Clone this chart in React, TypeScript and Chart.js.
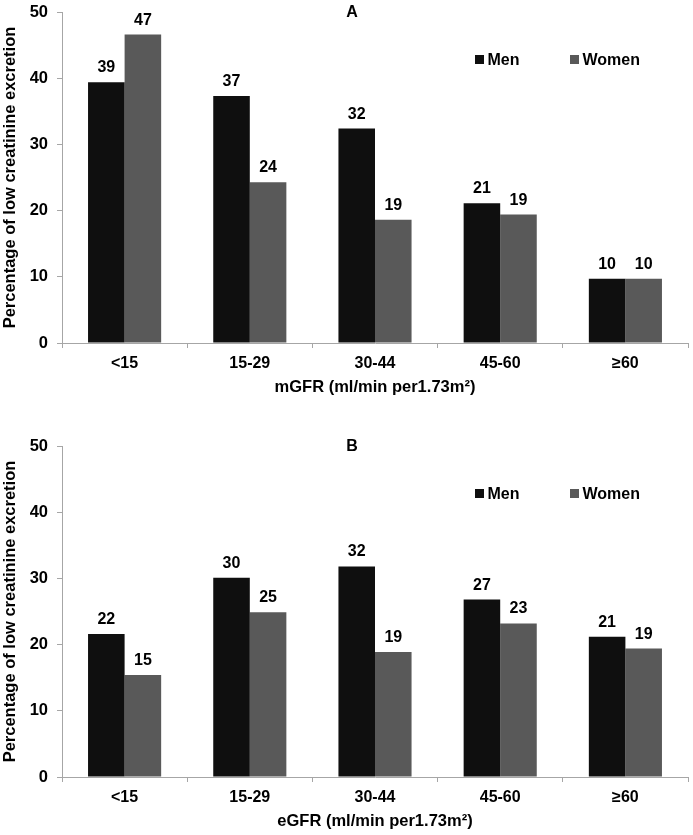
import React, { useEffect, useRef } from "react";
import { Chart, registerables } from "chart.js";

Chart.register(...registerables);

const categories = ["<15", "15-29", "30-44", "45-60", "≥60"];
const seriesNames = ["Men", "Women"];
const menA = [39.4, 37.3, 32.4, 21.1, 9.7];
const womenA = [46.6, 24.3, 18.6, 19.4, 9.7];
const menB = [21.6, 30.1, 31.8, 26.8, 21.2];
const womenB = [15.4, 24.9, 18.9, 23.2, 19.4];
const yMin = 0;
const yMax = 50;
const yStep = 10;
const yTitle = "Percentage of low creatinine excretion";
const xTitleA = "mGFR (ml/min per1.73m²)";
const xTitleB = "eGFR (ml/min per1.73m²)";

const FONT = '"Liberation Sans", Arial, sans-serif';
const MEN_COLOR = "#0f0f0f";
const WOMEN_COLOR = "#595959";
const AXIS_COLOR = "#a6a6a6";

const overlayPlugin = {
  id: "overlay",
  afterDatasetsDraw(chart: any, _args: any, opts: any) {
    const ctx = chart.ctx;
    const area = chart.chartArea;
    ctx.save();
    // data labels
    ctx.font = `bold 16px ${FONT}`;
    ctx.fillStyle = "#000";
    ctx.textAlign = "center";
    ctx.textBaseline = "alphabetic";
    chart.data.datasets.forEach((ds: any, di: number) => {
      const meta = chart.getDatasetMeta(di);
      meta.data.forEach((bar: any, i: number) => {
        const v = ds.data[i];
        ctx.fillText(String(Math.round(v)), bar.x, bar.y - 10);
      });
    });
    // panel letter
    ctx.font = `bold 16px ${FONT}`;
    ctx.textBaseline = "middle";
    ctx.fillText(opts.letter, 352, area.top + 1);
    // legend
    const ly = area.top + 47.5;
    ctx.font = `bold 16px ${FONT}`;
    ctx.textAlign = "left";
    const items = [
      { x: 475, color: MEN_COLOR, label: chart.data.datasets[0].label },
      { x: 570, color: WOMEN_COLOR, label: chart.data.datasets[1].label },
    ];
    items.forEach((it) => {
      ctx.fillStyle = it.color;
      ctx.fillRect(it.x, ly - 4.5, 9, 9);
      ctx.fillStyle = "#000";
      ctx.fillText(it.label, it.x + 12.5, ly + 1);
    });
    ctx.restore();
  },
};

function Panel({ men, women, xTitle, letter, top }: any) {
  const ref = useRef<HTMLCanvasElement>(null);
  useEffect(() => {
    const chart = new Chart(ref.current as HTMLCanvasElement, {
      type: "bar",
      data: {
        labels: categories,
        datasets: [
          {
            label: seriesNames[0],
            data: men,
            backgroundColor: MEN_COLOR,
            borderWidth: 0,
            categoryPercentage: 0.584,
            barPercentage: 1,
          },
          {
            label: seriesNames[1],
            data: women,
            backgroundColor: WOMEN_COLOR,
            borderWidth: 0,
            categoryPercentage: 0.584,
            barPercentage: 1,
          },
        ],
      },
      options: {
        animation: false,
        responsive: false,
        maintainAspectRatio: false,
        layout: { padding: { top: 12, right: 5, bottom: 0, left: 0 } },
        plugins: {
          legend: { display: false },
          tooltip: { enabled: false },
          overlay: { letter },
        } as any,
        scales: {
          x: {
            grid: {
              display: true,
              drawOnChartArea: false,
              drawTicks: true,
              tickLength: 5,
              color: AXIS_COLOR,
              offset: true,
            },
            border: { display: true, color: AXIS_COLOR, width: 1 },
            ticks: {
              color: "#000",
              font: { family: FONT, size: 16, weight: "bold" },
              padding: 6,
              maxRotation: 0,
            },
            title: {
              display: true,
              text: xTitle,
              color: "#000",
              font: { family: FONT, size: 16.5, weight: "bold" },
              padding: { top: 0, bottom: 3 },
            },
            afterFit(scale: any) {
              scale.height = 57;
              scale.paddingLeft = 0;
              scale.paddingRight = 0;
            },
          },
          y: {
            min: yMin,
            max: yMax,
            grid: {
              display: true,
              drawOnChartArea: false,
              drawTicks: true,
              tickLength: 5,
              color: AXIS_COLOR,
            },
            border: { display: true, color: AXIS_COLOR, width: 1 },
            ticks: {
              stepSize: yStep,
              color: "#000",
              font: { family: FONT, size: 16.5, weight: "bold" },
              padding: 9,
            },
            title: {
              display: true,
              text: yTitle,
              color: "#000",
              font: { family: FONT, size: 16.5, weight: "bold" },
              padding: { top: 1, bottom: 0 },
            },
            afterFit(scale: any) {
              scale.width = 62;
              scale.paddingTop = 0;
              scale.paddingBottom = 0;
            },
          },
        },
      },
      plugins: [overlayPlugin],
    } as any);
    return () => chart.destroy();
  }, [men, women, xTitle, letter]);
  return (
    <canvas
      ref={ref}
      width={693}
      height={400}
      style={{ position: "absolute", left: 0, top, width: 693, height: 400 }}
    />
  );
}

export default function App() {
  return (
    <div
      style={{
        position: "absolute",
        left: 0,
        top: 0,
        width: 693,
        height: 835,
        background: "#fff",
        overflow: "hidden",
      }}
    >
      <Panel men={menA} women={womenA} xTitle={xTitleA} letter="A" top={0} />
      <Panel men={menB} women={womenB} xTitle={xTitleB} letter="B" top={434} />
    </div>
  );
}
